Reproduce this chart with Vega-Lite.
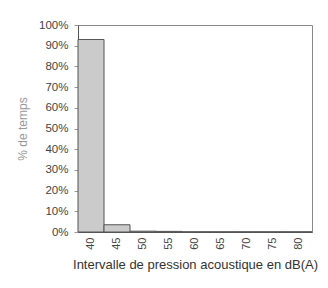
{
  "$schema": "https://vega.github.io/schema/vega-lite/v6.json",
  "autosize": "none",
  "padding": {"left": 78, "top": 25, "right": 16, "bottom": 56},
  "width": 234,
  "height": 207,
  "background": "white",
  "data": {"values": [
    {"db": "40", "pct": 0.93},
    {"db": "45", "pct": 0.035},
    {"db": "50", "pct": 0.004},
    {"db": "55", "pct": 0.003},
    {"db": "60", "pct": 0.001},
    {"db": "65", "pct": 0.001},
    {"db": "70", "pct": 0.001},
    {"db": "75", "pct": 0.001},
    {"db": "80", "pct": 0.001}
  ]},
  "mark": {"type": "bar", "fill": "#cbcbcb", "stroke": "#555555", "strokeWidth": 1},
  "encoding": {
    "x": {
      "field": "db", "type": "ordinal",
      "scale": {"paddingInner": 0, "paddingOuter": 0},
      "axis": {
        "title": "Intervalle de pression acoustique en dB(A)",
        "labelAngle": -90, "labelAlign": "right", "labelBaseline": "middle",
        "labelPadding": 5, "ticks": false, "domainColor": "#555555",
        "labelFont": "Liberation Sans", "labelFontSize": 11, "labelColor": "#444444",
        "titleFont": "Liberation Sans", "titleFontSize": 13, "titleFontWeight": "normal",
        "titleColor": "#333333", "titlePadding": 9
      }
    },
    "y": {
      "field": "pct", "type": "quantitative",
      "scale": {"domain": [0, 1]},
      "axis": {
        "title": "% de temps", "format": "%", "values": [0,0.1,0.2,0.3,0.4,0.5,0.6,0.7,0.8,0.9,1],
        "grid": false, "tickSize": 4, "tickColor": "#999999", "domainColor": "#555555",
        "labelPadding": 6, "labelFont": "Liberation Sans", "labelFontSize": 11.5, "labelColor": "#444444",
        "titleFont": "Liberation Sans", "titleFontSize": 12, "titleFontWeight": "normal",
        "titleColor": "#999999", "titlePadding": 9
      }
    }
  },
  "config": {"view": {"stroke": "#888888", "strokeWidth": 1}}
}
